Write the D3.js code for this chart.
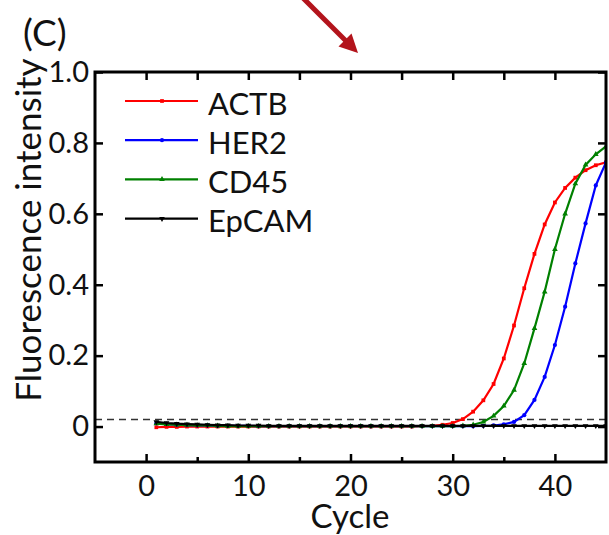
<!DOCTYPE html>
<html>
<head>
<meta charset="utf-8">
<script src="https://cdn.jsdelivr.net/npm/d3@7"></script>
<style>
  html, body { margin: 0; padding: 0; background: #fff; }
  svg { display: block; }
  text { font-family: "Lato", "Open Sans", sans-serif; fill: #111; }
</style>
</head>
<body>
<svg id="chart" width="609" height="535"></svg>
<script>
// qPCR amplification curves, cycles 1..45
const cycles = d3.range(1, 46);

const seriesNames = ["ACTB", "HER2", "CD45", "EpCAM"];
const seriesColors = ["#ff0000", "#0000ff", "#008000", "#000000"];
const seriesMarkers = ["square", "circle", "triangleUp", "triangleDown"];

const actb = [
  -0.002, -0.001, -0.001, 0.000, 0.000, 0.000, 0.000, 0.000, 0.000, 0.000,
  0.000, 0.000, 0.000, 0.000, 0.000, 0.000, 0.000, 0.000, 0.000, 0.000,
  0.000, 0.000, 0.000, 0.000, 0.000, 0.000, 0.001, 0.002, 0.005, 0.010,
  0.021, 0.042, 0.074, 0.120, 0.192, 0.285, 0.390, 0.487, 0.570, 0.632,
  0.673, 0.702, 0.723, 0.737, 0.745
];
const her2 = [
  0.009, 0.007, 0.005, 0.004, 0.003, 0.003, 0.002, 0.002, 0.002, 0.002,
  0.001, 0.001, 0.001, 0.001, 0.001, 0.001, 0.001, 0.001, 0.001, 0.001,
  0.001, 0.001, 0.001, 0.001, 0.001, 0.001, 0.001, 0.001, 0.001, 0.001,
  0.001, 0.001, 0.002, 0.003, 0.006, 0.013, 0.032, 0.075, 0.140, 0.230,
  0.338, 0.460, 0.573, 0.680, 0.745
];
const cd45 = [
  0.008, 0.006, 0.005, 0.004, 0.003, 0.003, 0.002, 0.001, 0.001, 0.001,
  0.001, 0.001, 0.001, 0.001, 0.001, 0.001, 0.001, 0.001, 0.001, 0.001,
  0.001, 0.001, 0.001, 0.001, 0.001, 0.001, 0.001, 0.001, 0.001, 0.001,
  0.002, 0.005, 0.013, 0.030, 0.058, 0.103, 0.178, 0.277, 0.380, 0.500,
  0.600, 0.685, 0.738, 0.768, 0.790
];
const epcam = [
  0.013, 0.010, 0.008, 0.007, 0.006, 0.005, 0.004, 0.004, 0.003, 0.003,
  0.003, 0.002, 0.002, 0.002, 0.002, 0.002, 0.002, 0.002, 0.002, 0.002,
  0.002, 0.002, 0.002, 0.002, 0.002, 0.002, 0.002, 0.002, 0.002, 0.002,
  0.002, 0.002, 0.002, 0.002, 0.002, 0.002, 0.002, 0.002, 0.002, 0.002,
  0.002, 0.002, 0.002, 0.002, 0.002
];
const seriesValues = [actb, her2, cd45, epcam];

const threshold = 0.02;
const xMajorTicks = [0, 10, 20, 30, 40];
const xMinorTicks = [5, 15, 25, 35];
const yTicks = [0, 0.2, 0.4, 0.6, 0.8, 1.0];

const svg = d3.select("#chart");
const plotLeft = 95, plotRight = 606, plotTop = 72, plotBottom = 462;

const x = d3.scaleLinear().domain([-5, 45]).range([plotLeft, plotRight]);
const y = d3.scaleLinear().domain([-0.1, 1.0]).range([plotBottom, plotTop]);

svg.append("defs").append("clipPath").attr("id", "plotClip")
  .append("rect").attr("x", plotLeft).attr("y", plotTop)
  .attr("width", plotRight - plotLeft).attr("height", plotBottom - plotTop);

// threshold line
svg.append("line")
  .attr("x1", plotLeft).attr("x2", plotRight)
  .attr("y1", y(threshold)).attr("y2", y(threshold))
  .attr("stroke", "#333").attr("stroke-width", 1.5)
  .attr("stroke-dasharray", "7,5");

// curves
const markerSym = {
  square: d3.symbolSquare,
  circle: d3.symbolCircle,
  triangleUp: d3.symbolTriangle,
  triangleDown: d3.symbolTriangle
};
const plot = svg.append("g").attr("clip-path", "url(#plotClip)");
const line = d3.line().x(d => x(d[0])).y(d => y(d[1]));

seriesValues.forEach((vals, i) => {
  const pts = cycles.map((c, k) => [c, vals[k]]);
  const g = plot.append("g");
  g.append("path").datum(pts)
    .attr("d", line)
    .attr("fill", "none")
    .attr("stroke", seriesColors[i])
    .attr("stroke-width", 2.2);
  const sym = d3.symbol().type(markerSym[seriesMarkers[i]]).size(14);
  g.selectAll("path.m").data(pts).join("path")
    .attr("class", "m")
    .attr("d", sym)
    .attr("transform", d => `translate(${x(d[0])},${y(d[1])})` +
      (seriesMarkers[i] === "triangleDown" ? " rotate(180)" : ""))
    .attr("fill", seriesColors[i]);
});

// axes with inward ticks
const fmtY = d => d === 0 ? "0" : d3.format(".1f")(d);
const axisStyle = g => {
  g.select(".domain").remove();
  g.selectAll(".tick line").attr("stroke", "#000").attr("stroke-width", 2.5);
  g.selectAll(".tick text").attr("font-size", 29).attr("fill", "#111")
    .style("font-family", "Lato, 'Open Sans', sans-serif");
};

svg.append("g").attr("transform", `translate(0,${plotBottom})`)
  .call(d3.axisBottom(x).tickValues(xMajorTicks).tickSize(-8).tickPadding(13))
  .call(axisStyle);
svg.append("g").attr("transform", `translate(0,${plotBottom})`)
  .call(d3.axisBottom(x).tickValues(xMinorTicks).tickSize(-5).tickFormat(""))
  .call(axisStyle);
svg.append("g").attr("transform", `translate(0,${plotTop})`)
  .call(d3.axisTop(x).tickValues(xMajorTicks.concat(xMinorTicks)).tickSize(-8).tickFormat(""))
  .call(axisStyle);
svg.append("g").attr("transform", `translate(${plotLeft},0)`)
  .call(d3.axisLeft(y).tickValues(yTicks).tickSize(-8).tickPadding(6).tickFormat(fmtY))
  .call(axisStyle);
svg.append("g").attr("transform", `translate(${plotRight},0)`)
  .call(d3.axisRight(y).tickValues(yTicks).tickSize(-8).tickFormat(""))
  .call(axisStyle);

// frame
svg.append("rect")
  .attr("x", plotLeft).attr("y", plotTop)
  .attr("width", plotRight - plotLeft).attr("height", plotBottom - plotTop)
  .attr("fill", "none").attr("stroke", "#000").attr("stroke-width", 3);

// legend
const legend = svg.append("g");
seriesNames.forEach((name, i) => {
  const ly = 101 + i * 39.2;
  legend.append("line")
    .attr("x1", 125).attr("x2", 198).attr("y1", ly).attr("y2", ly)
    .attr("stroke", seriesColors[i]).attr("stroke-width", 2.2);
  legend.append("path")
    .attr("d", d3.symbol().type(markerSym[seriesMarkers[i]]).size(14))
    .attr("transform", `translate(162,${ly})` +
      (seriesMarkers[i] === "triangleDown" ? " rotate(180)" : ""))
    .attr("fill", seriesColors[i]);
  legend.append("text")
    .attr("x", 208).attr("y", ly + 13.5)
    .attr("font-size", 31)
    .text(name);
});

// axis titles
svg.append("text")
  .attr("transform", "translate(41,230) rotate(-90)")
  .attr("text-anchor", "middle")
  .attr("font-size", 35)
  .text("Fluorescence intensity");
svg.append("text")
  .attr("x", 350).attr("y", 528)
  .attr("text-anchor", "middle")
  .attr("font-size", 33)
  .text("Cycle");

// panel label
svg.append("text")
  .attr("x", 23).attr("y", 46)
  .attr("font-size", 37)
  .text("(C)");

// pointer arrow
const arrowColor = "#b3141c";
svg.append("line")
  .attr("x1", 301).attr("y1", -4).attr("x2", 348).attr("y2", 43)
  .attr("stroke", arrowColor).attr("stroke-width", 5);
svg.append("path")
  .attr("d", d3.line()([[358, 53], [351.5, 33.5], [338.5, 46.5]]) + "Z")
  .attr("fill", arrowColor);
</script>
</body>
</html>
